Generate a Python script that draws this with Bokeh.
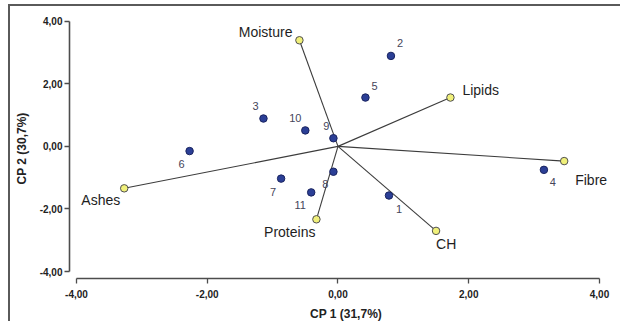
from bokeh.plotting import figure
from bokeh.models import ColumnDataSource, FixedTicker
from bokeh.core.properties import value
from bokeh.embed import file_html
from bokeh.resources import INLINE

# --- data ---
sample_ids = ["1", "2", "3", "4", "5", "6", "7", "8", "9", "10", "11"]
sample_cp1 = [0.78, 0.81, -1.14, 3.15, 0.42, -2.27, -0.87, -0.07, -0.07, -0.50, -0.41]
sample_cp2 = [-1.57, 2.89, 0.89, -0.75, 1.56, -0.15, -1.03, -0.81, 0.26, 0.51, -1.47]

var_names = ["Moisture", "Lipids", "Fibre", "CH", "Proteins", "Ashes"]
var_cp1 = [-0.59, 1.72, 3.46, 1.50, -0.33, -3.27]
var_cp2 = [3.39, 1.56, -0.47, -2.70, -2.33, -1.34]

tick_values = [-4, -2, 0, 2, 4]
tick_labels = ["-4,00", "-2,00", "0,00", "2,00", "4,00"]
x_title = "CP 1 (31,7%)"
y_title = "CP 2 (30,7%)"

# --- label placement (pixels) ---
sample_dx = [10, 9, -8, 9, 9, -8, -8, -8, -7, -10, -11]
sample_dy = [13, -13, -13, 12, -12, 13, 13, 12, -12, -12, 13]
var_dx = [-7, 12, 11, 0, -1, -4]
var_dy = [-8, -8, 19, 13, 13, 12]
var_align = ["right", "left", "left", "left", "right", "right"]

FONT = "Liberation Sans"

p = figure(width=612, height=317, output_backend="svg", toolbar_location=None,
           x_range=(-4.107, 4.352), y_range=(-4.221, 4.085),
           min_border_left=59, min_border_right=0, min_border_top=12, min_border_bottom=42)
p.outline_line_color = None
p.grid.visible = False
p.background_fill_color = "white"
p.styles = {"border-left": "2px solid #5a5a5a", "border-top": "2px solid #5a5a5a",
            "margin-left": "8px", "margin-top": "4px"}

for ax in (p.xaxis[0], p.yaxis[0]):
    ax.bounds = (-4, 4)
    ax.ticker = FixedTicker(ticks=tick_values)
    ax.major_label_overrides = {v: l for v, l in zip(tick_values, tick_labels)}
    ax.minor_tick_line_color = None
    ax.axis_line_color = "#4d4d4d"
    ax.axis_line_width = 1.6
    ax.major_tick_line_color = "#4d4d4d"
    ax.major_tick_line_width = 1.3
    ax.major_tick_in = 0
    ax.major_tick_out = 5
    ax.major_label_text_font = FONT
    ax.major_label_text_font_size = "10px"
    ax.major_label_text_font_style = "bold"
    ax.major_label_text_color = "#222222"
    ax.axis_label_text_font = FONT
    ax.axis_label_text_font_size = "12px"
    ax.axis_label_text_font_style = "bold"
    ax.axis_label_text_color = "#222222"

p.xaxis.axis_label = x_title
p.yaxis.axis_label = y_title
p.xaxis.major_label_standoff = 6
p.xaxis.axis_label_standoff = 6
p.yaxis.major_label_standoff = 2
p.yaxis.axis_label_standoff = 8

vsrc = ColumnDataSource(dict(x0=[0.0] * len(var_names), y0=[0.0] * len(var_names),
                             x=var_cp1, y=var_cp2, name=var_names,
                             dx=var_dx, dy=var_dy, align=var_align))
ssrc = ColumnDataSource(dict(x=sample_cp1, y=sample_cp2, name=sample_ids,
                             dx=sample_dx, dy=sample_dy))

p.segment(x0="x0", y0="y0", x1="x", y1="y", source=vsrc, line_color="#3c3c3c", line_width=1.1)
p.scatter(x="x", y="y", source=ssrc, size=7.5, fill_color="#2b3f96", line_color="#1a2460", line_width=1)
p.scatter(x="x", y="y", source=vsrc, size=7.5, fill_color="#f0f07a", line_color="#505050", line_width=1)

p.text(x="x", y="y", text="name", source=ssrc, x_offset="dx", y_offset="dy",
       text_align="center", text_baseline="middle", text_font=value(FONT),
       text_font_size="11px", text_color="#45455a")
p.text(x="x", y="y", text="name", source=vsrc, x_offset="dx", y_offset="dy",
       text_align="align", text_baseline="middle", text_font=value(FONT),
       text_font_size="14px", text_color="#1e1e1e")

open("out.html", "w").write(file_html(p, INLINE))
